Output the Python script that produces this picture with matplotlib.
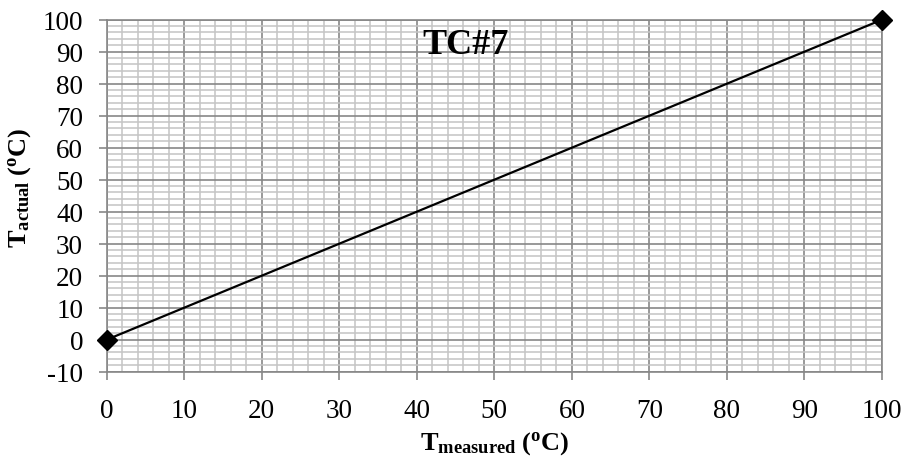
import matplotlib
matplotlib.use("Agg")
import matplotlib.pyplot as plt
from matplotlib.ticker import MultipleLocator

# Calibration data for thermocouple TC#7
t_measured = [0, 100]
t_actual = [0, 100]

x_ticks = [0, 10, 20, 30, 40, 50, 60, 70, 80, 90, 100]
y_ticks = [-10, 0, 10, 20, 30, 40, 50, 60, 70, 80, 90, 100]
x_tick_labels = ["0", "10", "20", "30", "40", "50", "60", "70", "80", "90", "100"]
y_tick_labels = ["-10", "0", "10", "20", "30", "40", "50", "60", "70", "80", "90", "100"]

plt.rcParams["font.family"] = ["Liberation Serif", "DejaVu Serif"]
plt.rcParams["mathtext.fontset"] = "custom"
plt.rcParams["mathtext.rm"] = "Liberation Serif"
plt.rcParams["mathtext.it"] = "Liberation Serif:italic"
plt.rcParams["mathtext.bf"] = "Liberation Serif:bold"

major_c = "#878787"
minor_c = "#c4c4c4"

fig = plt.figure(figsize=(9.06, 4.64), dpi=100)
ax = fig.add_axes([0.1178, 0.1968, 0.8557, 0.7586])

ax.set_xlim(0, 100)
ax.set_ylim(-10, 100)
ax.set_xticks(x_ticks)
ax.set_xticklabels(x_tick_labels)
ax.set_yticks(y_ticks)
ax.set_yticklabels(y_tick_labels)
ax.xaxis.set_minor_locator(MultipleLocator(2))
ax.yaxis.set_minor_locator(MultipleLocator(2))

ax.grid(which="minor", color=minor_c, linewidth=1.1, zorder=0)
ax.grid(which="major", color=major_c, linewidth=1.2, zorder=1)
ax.set_axisbelow(True)

for side in ax.spines:
    ax.spines[side].set_color(major_c)
    ax.spines[side].set_linewidth(1.2)

ax.tick_params(which="major", direction="out", length=6, width=1.2,
               color=major_c, labelsize=19.5, labelcolor="black")
ax.tick_params(axis="x", which="major", pad=13)
ax.tick_params(axis="y", which="major", pad=11)
ax.tick_params(which="minor", length=0)

ax.plot(t_measured, t_actual, color="black", linewidth=1.6,
        marker="D", markersize=10, markerfacecolor="black",
        markeredgecolor="black", clip_on=False, zorder=5)

fig.text(0.514, 0.903, "TC#7", fontsize=26, fontweight="bold",
         ha="center", va="center")

ax.set_xlabel(r"$\mathbf{T_{measured}\ (^{o}C)}$", fontsize=19, va="center")
ax.set_ylabel(r"$\mathbf{T_{actual}\ (^{o}C)}$", fontsize=19, va="center")
ax.xaxis.set_label_coords(0.5, -0.2)
ax.yaxis.set_label_coords(-0.112, 0.525)

fig.savefig("out.png", dpi=100)
